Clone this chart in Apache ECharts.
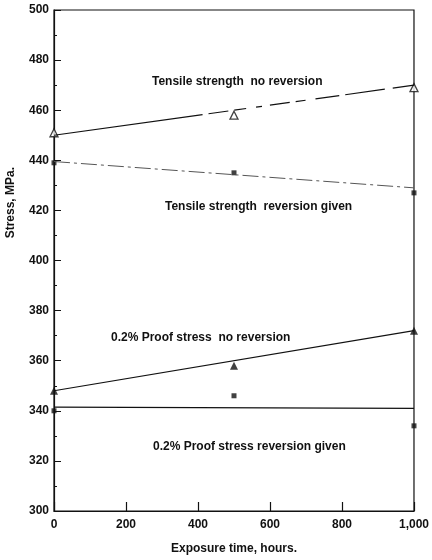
<!DOCTYPE html>
<html>
<head>
<meta charset="utf-8">
<script src="https://cdn.jsdelivr.net/npm/echarts@6/dist/echarts.min.js"></script>
<style>
  html, body { margin: 0; padding: 0; background: #fff; }
  #chart { width: 432px; height: 560px; }
</style>
</head>
<body>
<div id="chart"></div>
<script>
// exposure times (hours) where specimens were tested
const hours = [0, 500, 1000]

// measured stresses, MPa
const tensileNoRev = [451, 458, 469]
const tensileRev = [439, 435, 427]
const proofNoRev = [348, 358, 372]
const proofRev = [340, 346, 334]

// fitted line ends (at 0 and 1000 h)
const fitHours = [0, 1000]
const tensileNoRevFit = [450, 470]
const tensileRevFit = [439.5, 429]
const proofNoRevFit = [348, 372]
const proofRevFit = [341.5, 341]

const font = "Liberation Sans, Arial, sans-serif"
const ink = "#111"

const pairs = (xs, ys) => xs.map((x, i) => [x, ys[i]])

const chart = echarts.init(document.getElementById("chart"))

function fitLine(ys, style) {
  return {
    type: "line",
    data: pairs(fitHours, ys),
    symbol: "none",
    silent: true,
    lineStyle: Object.assign({ color: ink, width: 1.2 }, style)
  }
}

function points(ys, symbol, filled, size) {
  return {
    type: "scatter",
    data: pairs(hours, ys),
    symbol: symbol,
    symbolSize: size,
    itemStyle: {
      color: filled ? ink : "#fff",
      borderColor: ink,
      borderWidth: filled ? 0 : 1.3
    }
  }
}

function note(text, x, y) {
  return {
    type: "text",
    left: x,
    top: y,
    style: { text: text, font: "bold 12px " + font, fill: ink }
  }
}

chart.setOption({
  animation: false,
  grid: {
    left: 54, right: 16, top: 10, bottom: 48,
    show: true, borderColor: ink, borderWidth: 1.2, backgroundColor: "transparent"
  },
  xAxis: {
    type: "value",
    min: 0, max: 1000, interval: 200,
    name: "Exposure time, hours.",
    nameLocation: "middle",
    nameGap: 32,
    nameTextStyle: { fontFamily: font, fontSize: 12, fontWeight: "bold", color: ink },
    axisLine: { lineStyle: { color: ink, width: 1.2 } },
    axisTick: { inside: true, length: 9, lineStyle: { color: ink, width: 1.2 } },
    axisLabel: {
      margin: 8, fontFamily: font, fontSize: 12, fontWeight: "bold", color: ink,
      formatter: v => v === 1000 ? "1,000" : String(v)
    },
    splitLine: { show: false }
  },
  yAxis: {
    type: "value",
    min: 300, max: 500, interval: 20,
    axisLine: { lineStyle: { color: ink, width: 1.2 } },
    axisTick: { inside: true, length: 7, lineStyle: { color: ink } },
    minorTick: { show: true, splitNumber: 2, length: 3, lineStyle: { color: ink } },
    axisLabel: { margin: 5, fontFamily: font, fontSize: 12, fontWeight: "bold", color: ink },
    splitLine: { show: false }
  },
  graphic: [
    {
      type: "text",
      left: 5, top: 167,
      rotation: Math.PI / 2,
      style: { text: "Stress, MPa.", font: "bold 12px " + font, fill: ink }
    },
    note("Tensile strength  no reversion", 152, 76),
    note("Tensile strength  reversion given", 165, 201),
    note("0.2% Proof stress  no reversion", 111, 332),
    note("0.2% Proof stress reversion given", 153, 441)
  ],
  series: [
    fitLine(tensileNoRevFit, { type: [150, 6, 20, 6, 12, 10, 6, 8, 20, 6, 10, 10, 24, 6, 40, 8] }),
    fitLine(tensileRevFit, { type: [16, 4, 3, 4], color: "#555", width: 1 }),
    fitLine(proofNoRevFit, {}),
    fitLine(proofRevFit, {}),
    points(tensileNoRev, "triangle", false, 8),
    points(tensileRev, "rect", true, 5),
    points(proofNoRev, "triangle", true, 8),
    points(proofRev, "rect", true, 5)
  ]
})
</script>
</body>
</html>
